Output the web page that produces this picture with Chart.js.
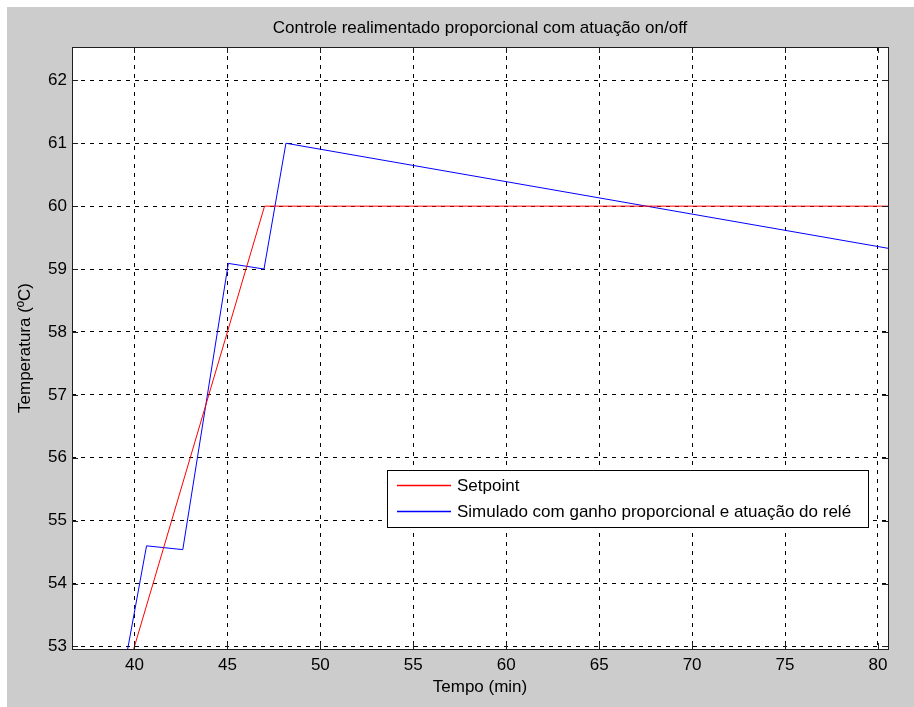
<!DOCTYPE html>
<html>
  <head>
    <meta charset="utf-8" />
    <title>Controle realimentado proporcional com atuação on/off</title>
    <script src="https://cdn.jsdelivr.net/npm/chart.js@4"></script>
    <style>
      body { margin: 0; background: #fff; }
    </style>
  </head>
  <body>
    <canvas id="controleCanvas" width="914" height="707"></canvas>
    <script>
      const chartTitle = "Controle realimentado proporcional com atuação on/off";
      const xTitle = "Tempo (min)";
      const yTitle = "Temperatura (ºC)";
      const xTicks = [40, 45, 50, 55, 60, 65, 70, 75, 80];
      const yTicks = [53, 54, 55, 56, 57, 58, 59, 60, 61, 62];

      // setpoint ramp then hold
      const setpointLabel = "Setpoint";
      const setpointTime = [39.95, 47.0, 80.54];
      const setpointTemp = [52.95, 60.0, 60.0];

      // simulated temperature with relay actuation
      const simLabel = "Simulado com ganho proporcional e atuação do relé";
      const simTime = [39.63, 40.65, 42.6, 45.05, 46.97, 48.15, 80.54];
      const simTemp = [52.95, 54.6, 54.54, 59.09, 59.0, 61.0, 59.33];

      const FONT = "Liberation Sans, Arial, sans-serif";
      const FONT_SIZE = 17;
      const SETPOINT_COLOR = "#ff0000";
      const SIM_COLOR = "#0000ff";

      function toPoints(xs, ys) {
        return xs.map((x, i) => ({ x: x, y: ys[i] }));
      }

      function px(v) {
        return Math.round(v) + 0.5;
      }

      // figure background, axes box with inward ticks, title and legend
      const figurePlugin = {
        id: "figurePlugin",
        beforeDraw(chart) {
          const ctx = chart.ctx;
          const a = chart.chartArea;
          ctx.save();
          ctx.fillStyle = "#ffffff";
          ctx.fillRect(0, 0, chart.width, chart.height);
          ctx.fillStyle = "#cccccc";
          ctx.fillRect(7, 7, chart.width - 7, chart.height - 7);
          ctx.fillStyle = "#ffffff";
          ctx.fillRect(a.left, a.top, a.right - a.left, a.bottom - a.top);
          ctx.restore();
        },
        afterDatasetsDraw(chart) {
          const ctx = chart.ctx;
          const a = chart.chartArea;
          const xs = chart.scales.x;
          const ys = chart.scales.y;
          const tick = 6;
          ctx.save();
          ctx.setLineDash([]);
          ctx.strokeStyle = "#1e1e1e";
          ctx.lineWidth = 1;
          ctx.beginPath();
          xTicks.forEach((v) => {
            const p = px(xs.getPixelForValue(v));
            ctx.moveTo(p, a.bottom);
            ctx.lineTo(p, a.bottom - tick);
            ctx.moveTo(p, a.top);
            ctx.lineTo(p, a.top + tick);
          });
          yTicks.forEach((v) => {
            const p = px(ys.getPixelForValue(v));
            ctx.moveTo(a.left, p);
            ctx.lineTo(a.left + tick, p);
            ctx.moveTo(a.right, p);
            ctx.lineTo(a.right - tick, p);
          });
          ctx.stroke();
          ctx.strokeRect(px(a.left), px(a.top), Math.round(a.right - a.left), Math.round(a.bottom - a.top));

          // title
          ctx.fillStyle = "#000";
          ctx.font = FONT_SIZE + "px " + FONT;
          ctx.textAlign = "center";
          ctx.textBaseline = "middle";
          ctx.fillText(chartTitle, (a.left + a.right) / 2, 28);

          // legend
          const box = { left: 387, top: 470, width: 481, height: 57 };
          const entries = [
            { label: setpointLabel, color: SETPOINT_COLOR },
            { label: simLabel, color: SIM_COLOR },
          ];
          ctx.fillStyle = "#ffffff";
          ctx.fillRect(box.left, box.top, box.width, box.height);
          ctx.strokeStyle = "#000";
          ctx.strokeRect(box.left + 0.5, box.top + 0.5, box.width, box.height);
          ctx.textAlign = "left";
          entries.forEach((e, i) => {
            const y = box.top + 15 + i * 26;
            ctx.lineWidth = 1.5;
            ctx.strokeStyle = e.color;
            ctx.beginPath();
            ctx.moveTo(397, y + 0.5);
            ctx.lineTo(451, y + 0.5);
            ctx.stroke();
            ctx.fillStyle = "#000";
            ctx.fillText(e.label, 457, y + 1);
          });
          ctx.restore();
        },
      };

      const ctx = document.getElementById("controleCanvas").getContext("2d");
      const controleChart = new Chart(ctx, {
        type: "line",
        data: {
          datasets: [
            {
              label: setpointLabel,
              data: toPoints(setpointTime, setpointTemp),
              borderColor: SETPOINT_COLOR,
              borderWidth: 1,
              pointRadius: 0,
              tension: 0,
              clip: 0,
            },
            {
              label: simLabel,
              data: toPoints(simTime, simTemp),
              borderColor: SIM_COLOR,
              borderWidth: 1,
              pointRadius: 0,
              tension: 0,
              clip: 0,
            },
          ],
        },
        options: {
          responsive: false,
          animation: false,
          devicePixelRatio: 1,
          layout: { padding: { top: 47, right: 26, bottom: 0, left: 0 } },
          plugins: {
            legend: { display: false },
            title: { display: false },
            tooltip: { enabled: false },
          },
          scales: {
            x: {
              type: "linear",
              min: 36.64,
              max: 80.54,
              afterBuildTicks: (scale) => {
                scale.ticks = xTicks.map((v) => ({ value: v }));
              },
              afterFit: (scale) => {
                scale.height = 58;
              },
              grid: { color: "#000", lineWidth: 1, drawTicks: false },
              border: { display: false, dash: [4, 5] },
              ticks: {
                color: "#000",
                padding: 6,
                font: { family: FONT, size: FONT_SIZE },
              },
              title: {
                display: true,
                text: xTitle,
                color: "#000",
                font: { family: FONT, size: FONT_SIZE },
                padding: { top: 0, bottom: 9 },
              },
            },
            y: {
              type: "linear",
              min: 52.96,
              max: 62.53,
              afterBuildTicks: (scale) => {
                scale.ticks = yTicks.map((v) => ({ value: v }));
              },
              afterFit: (scale) => {
                scale.width = 72;
              },
              grid: { color: "#000", lineWidth: 1, drawTicks: false },
              border: { display: false, dash: [4, 5] },
              ticks: {
                color: "#000",
                padding: 5,
                font: { family: FONT, size: FONT_SIZE },
              },
              title: {
                display: true,
                text: yTitle,
                color: "#000",
                font: { family: FONT, size: FONT_SIZE },
                padding: { top: 15, bottom: 0 },
              },
            },
          },
        },
        plugins: [figurePlugin],
      });
    </script>
  </body>
</html>
